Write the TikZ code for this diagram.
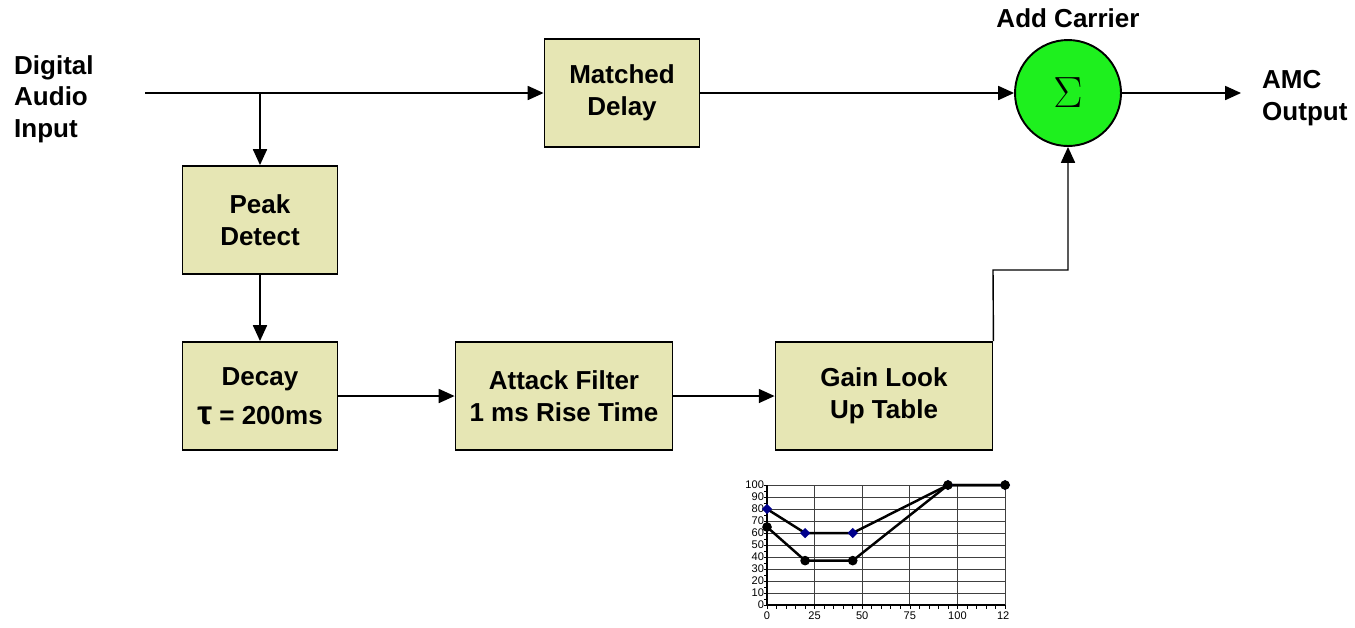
\documentclass[tikz,border=0pt]{standalone}
\usepackage{fontspec}
\setmainfont{Liberation Sans}
\usepackage{tikz}
\usetikzlibrary{positioning,arrows.meta,shapes}

\definecolor{blockfill}{RGB}{230,230,180}
\definecolor{sumgreen}{RGB}{30,240,30}
\definecolor{markblue}{RGB}{0,0,140}

\tikzset{
	block/.style={draw=black,fill=blockfill,line width=1.1pt,minimum width=3.1cm,minimum height=2.16cm,align=center,font=\bfseries\fontsize{14.8}{18}\selectfont},
	wideblock/.style={block,minimum width=4.34cm},
	sumnode/.style={circle,draw=black,fill=sumgreen,line width=1.1pt,minimum size=2.12cm,inner sep=0pt},
	label/.style={align=left,anchor=west,font=\bfseries\fontsize{14.8}{18}\selectfont},
	wire/.style={line width=0.8pt,-{Triangle[length=9pt,width=8pt]}},
	plainwire/.style={line width=0.8pt},
	chartnum/.style={font=\fontsize{6.3}{7}\selectfont,inner sep=1pt}
}

\begin{document}
\begin{tikzpicture}[x=0.02cm,y=-0.02cm]
				\useasboundingbox (0,0) rectangle (1355,627);
				% Blocks
				\node [block] (delay) at (622,93) {Matched\\Delay};
				\node [block] (peak) at (260,220) {Peak\\Detect};
				\node [block] (decay) at (260,396) {Decay\\[4pt]{\fontsize{19}{19}\selectfont τ} = 200ms};
				\node [wideblock] (attack) at (564,396) {Attack Filter\\1 ms Rise Time};
				\node [wideblock] (gain) at (884,396) {Gain Look\\Up Table};
				\node [sumnode] (sum) at (1068,93) {\fontsize{30}{30}\selectfont$\Sigma$};
				% Labels
				\node [label] (input) at (8,99) {Digital\\Audio\\Input};
				\node [label] (output) at (1256,98) {AMC\\Output};
				\node [font=\bfseries\fontsize{14.8}{18}\selectfont] (carrier) at (1068,18) {Add Carrier};
				% Connectors
				\coordinate [] (in) at (145,93) ;
				\coordinate [] (split) at (260,93) ;
				\coordinate [] (out) at (1241,93) ;
				\coordinate [] (up) at (993,270) ;
				\draw[plainwire] (in) -- (split);
				\draw[wire] (split) -- (delay.west |- split);
				\draw[wire] (split) -- (peak.north);
				\draw[wire] (peak) -- (decay);
				\draw[wire] (decay) -- (attack);
				\draw[wire] (attack) -- (gain);
				\draw[wire] (delay.east |- sum) -- (sum.west);
				\draw[wire] (sum.east) -- (out);
				\draw[wire] (gain.north east) -- (up) -| (sum.south);
				% Gain curve chart
				\begin{scope}[shift={(767,605)},x=0.0381cm,y=0.024cm]
					\foreach \v in {10,20,...,100}
						\draw[line width=0.5pt,black!75] (0,\v) -- (125,\v);
					\foreach \v in {25,50,...,125}
						\draw[line width=0.5pt,black!75] (\v,0) -- (\v,100);
					\draw[line width=0.6pt] (0,0) -- (125,0);
					\draw[line width=0.6pt] (0,0) -- (0,100);
					\foreach \v in {0,5,...,125}
						\draw[line width=0.4pt] (\v,0) -- (\v,-3);
					\foreach \v in {0,5,...,100}
						\draw[line width=0.4pt] (0,\v) -- (-1.5,\v);
					\foreach \v in {0,10,...,100}
						\node [chartnum,anchor=east] (ylab\v) at (-0.5,\v) {\v};
					\foreach \v in {0,25,...,100}
						\node [chartnum,anchor=north] (xlab\v) at (\v,-4) {\v};
					\node [chartnum,anchor=north] (xlab125) at (124,-4) {12};
					\draw[line width=1.4pt,line join=round] (0,80) -- (20,60) -- (45,60) -- (95,100) -- (125,100);
					\draw[line width=1.4pt,line join=round] (0,65) -- (20,37) -- (45,37) -- (95,100) -- (125,100);
					\foreach \px/\py in {0/80,20/60,45/60,95/100,125/100}
						\node [diamond,fill=markblue,inner sep=0pt,minimum size=6pt] (blue\px) at (\px,\py) {};
					\foreach \px/\py in {0/65,20/37,45/37,95/100,125/100}
						\node [circle,fill=black,inner sep=0pt,minimum size=5.5pt] (black\px) at (\px,\py) {};
				\end{scope}
\end{tikzpicture}
\end{document}
